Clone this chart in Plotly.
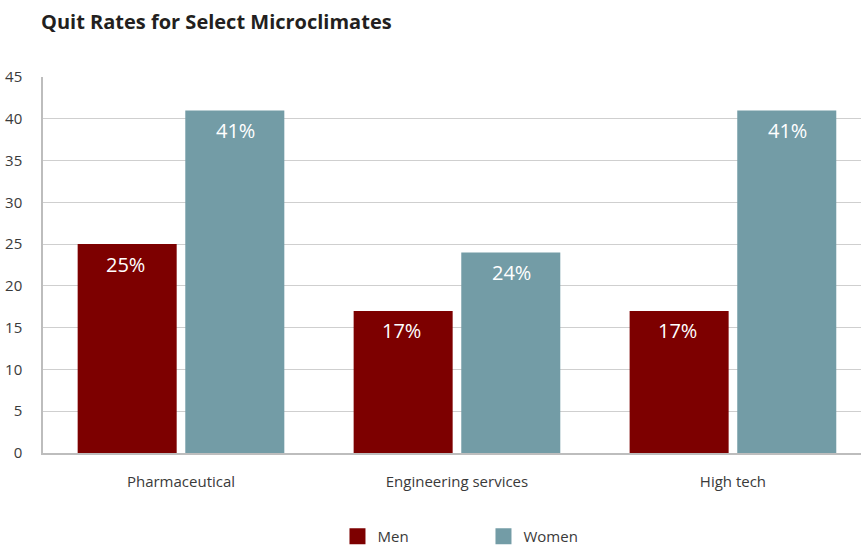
import plotly.graph_objects as go

categories = ["Pharmaceutical", "Engineering services", "High tech"]
men = [25, 17, 17]
women = [41, 24, 41]
y_ticks = [0, 5, 10, 15, 20, 25, 30, 35, 40, 45]

MEN_COLOR = "#7d0000"
WOMEN_COLOR = "#739ca6"
FONT = "Open Sans"

fig = go.Figure()
fig.add_trace(go.Bar(name="Men", x=categories, y=men, marker_color=MEN_COLOR,
                     marker_line_width=0, showlegend=False))
fig.add_trace(go.Bar(name="Women", x=categories, y=women, marker_color=WOMEN_COLOR,
                     marker_line_width=0, showlegend=False))

# legend entries drawn as large square swatches
for name, color in (("Men", MEN_COLOR), ("Women", WOMEN_COLOR)):
    fig.add_trace(go.Scatter(name=name, x=[None], y=[None], mode="markers",
                             marker=dict(symbol="square", size=16, color=color),
                             showlegend=True))

# value labels just inside the top of each bar
for vals, shift in ((men, -55), (women, 55)):
    for cat, v in zip(categories, vals):
        fig.add_annotation(x=cat, y=v, text=f"{v}%", showarrow=False,
                           xshift=shift, yshift=-20, yanchor="middle",
                           font=dict(family=FONT, size=20, color="white"))

fig.update_layout(
    width=861, height=546,
    margin=dict(l=43, r=0, t=77, b=93, autoexpand=False),
    paper_bgcolor="white", plot_bgcolor="white",
    barmode="group", bargap=0.22, bargroupgap=0.08,
    font=dict(family=FONT, color="#3a3a3a"),
    title=dict(text="<b>Quit Rates for Select Microclimates</b>",
               x=41 / 861, xanchor="left", xref="container",
               y=1 - 22 / 546, yanchor="middle", yref="container",
               font=dict(family=FONT, size=20, color="#231f20")),
    showlegend=True,
    legend=dict(orientation="h", x=0.36, xanchor="left",
                y=-0.222, yanchor="middle", itemsizing="trace",
                entrywidth=101, entrywidthmode="pixels",
                font=dict(family=FONT, size=15, color="#3a3a3a")),
    xaxis=dict(range=[-0.5, 2.464], showline=True, linecolor="#bdbdbd",
               linewidth=1.5, ticks="", showgrid=False, tickangle=0,
               automargin=False, ticklabelstandoff=14,
               tickfont=dict(family=FONT, size=15, color="#3a3a3a")),
    yaxis=dict(range=[0, 45], tickvals=y_ticks, showline=True,
               linecolor="#bdbdbd", linewidth=1.5, showgrid=True,
               gridcolor="#cfcfcf", gridwidth=1.2, ticks="", automargin=False,
               ticklabelstandoff=16, zeroline=False,
               tickfont=dict(family=FONT, size=15, color="#3a3a3a")),
)

fig.write_html("out.html")
